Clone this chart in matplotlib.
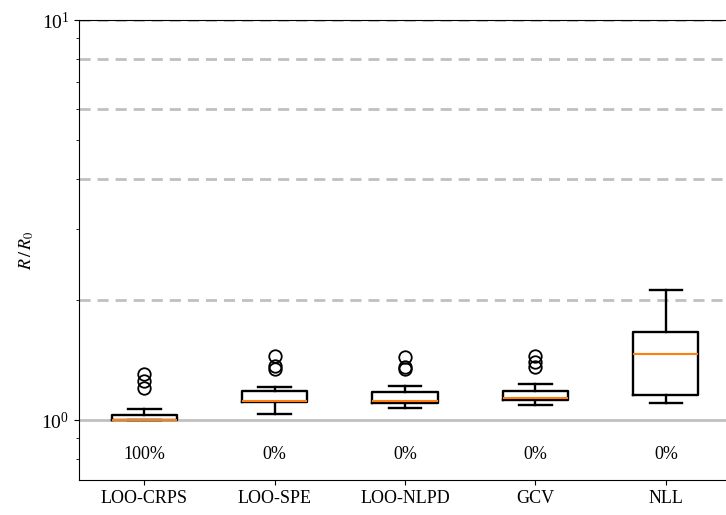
import matplotlib
matplotlib.use("Agg")
import matplotlib.pyplot as plt
import numpy as np

plt.rcParams['font.family'] = ['Liberation Serif', 'DejaVu Serif']
plt.rcParams['mathtext.fontset'] = 'stix'

categories = ["LOO-CRPS", "LOO-SPE", "LOO-NLPD", "GCV", "NLL"]
percent_labels = ["100%", "0%", "0%", "0%", "0%"]
whislo = [1.0, 1.033, 1.073, 1.09, 1.103]
q1 = [1.0, 1.111, 1.101, 1.122, 1.153]
med = [1.0, 1.117, 1.117, 1.133, 1.465]
q3 = [1.029, 1.184, 1.173, 1.184, 1.657]
whishi = [1.065, 1.211, 1.216, 1.23, 2.113]
fliers = [
    [1.303, 1.25, 1.202],
    [1.445, 1.365, 1.341],
    [1.44, 1.36, 1.34],
    [1.445, 1.396, 1.357],
    [],
]
ref_dashed = [2, 4, 6, 8, 10]
ref_solid = 1.0

stats = []
for i, name in enumerate(categories):
    stats.append(dict(label=name, whislo=whislo[i], q1=q1[i], med=med[i],
                      q3=q3[i], whishi=whishi[i], fliers=fliers[i]))

fig = plt.figure(figsize=(7.26, 5.15), dpi=100)
ax = fig.add_axes([79/726, 35/515, 1 - 79/726 + 0.007, 460/515])

for yv in ref_dashed:
    ax.axhline(yv, color='#c0c0c0', lw=2, ls=(0, (4, 2.5)), zorder=0)
ax.axhline(ref_solid, color='#c0c0c0', lw=2, zorder=0)

positions = np.arange(1, len(categories) + 1)
ax.bxp(stats, positions=positions, widths=0.5,
       boxprops=dict(color='black', lw=1.7),
       whiskerprops=dict(color='black', lw=1.7),
       capprops=dict(color='black', lw=1.7),
       medianprops=dict(color='#ff7f0e', lw=1.5),
       flierprops=dict(marker='o', markerfacecolor='none',
                       markeredgecolor='black', markersize=9, markeredgewidth=1.3))

for p, t in zip(positions, percent_labels):
    ax.text(p, 0.82, t, ha='center', va='center', fontsize=13)

ax.set_yscale('log')
ax.set_ylim(0.708, 10)
ax.set_xlim(0.5, 5.5)
ax.set_xticks(positions)
ax.set_xticklabels(categories, fontsize=13)
ax.tick_params(axis='y', labelsize=14)
ax.set_ylabel(r'$R\,/\,R_0$', fontsize=13)
ax.spines['right'].set_visible(False)

fig.savefig('out.png', dpi=100)
